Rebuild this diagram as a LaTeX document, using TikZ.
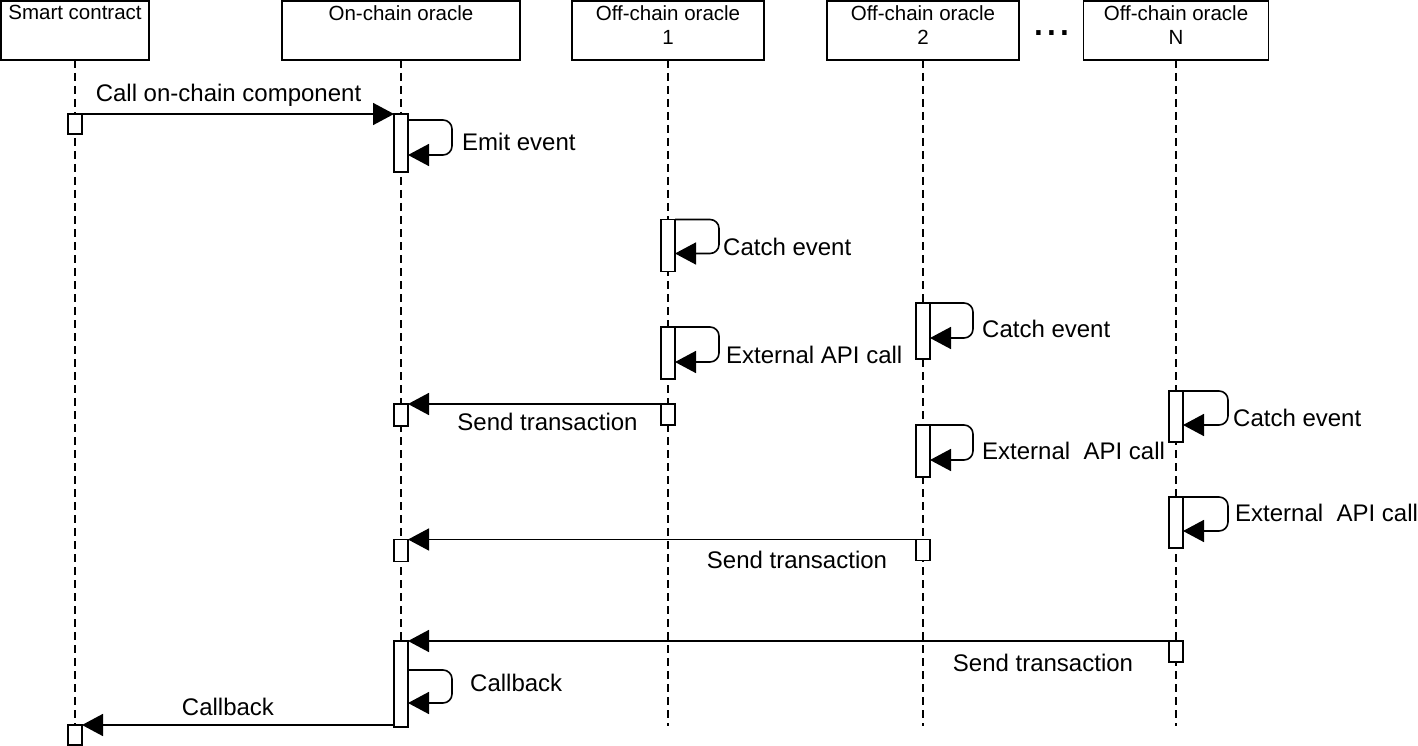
\documentclass[tikz,border=0pt]{standalone}
\usepackage{fontspec}
\setmainfont{Liberation Sans}
\usetikzlibrary{arrows.meta}
\pgfdeclarelayer{bg}
\pgfsetlayers{bg,main}
\begin{document}
\begin{tikzpicture}[x=1pt,y=-1pt,
 hdrbox/.style={draw, line width=1.6pt, inner sep=0pt, outer sep=0pt},
 hdrtxt/.style={font=\fontsize{20.5}{24}\selectfont, align=center, inner sep=0pt, anchor=north},
 act/.style={draw, fill=white, line width=1.6pt, minimum width=14pt, inner sep=0pt, outer sep=0pt, anchor=north},
 life/.style={line width=1.5pt, dash pattern=on 8pt off 5pt},
 msg/.style={line width=1.6pt, -{Triangle[length=21pt,width=22pt]}},
 selfmsg/.style={msg, rounded corners=9pt},
 lbl/.style={font=\fontsize{24}{28}\selectfont, inner sep=0pt, text height=17pt, text depth=0pt}]
\useasboundingbox (0,0) rectangle (1418,746);

% header boxes
\node[hdrbox, minimum width=148pt, minimum height=59pt] (hsc) at (75,30.5) {};
\node[hdrbox, minimum width=238pt, minimum height=59pt] (hoc) at (401,30.5) {};
\node[hdrbox, minimum width=192pt, minimum height=59pt] (h1) at (668,30.5) {};
\node[hdrbox, minimum width=192pt, minimum height=59pt] (h2) at (923,30.5) {};
\node[hdrbox, minimum width=185pt, minimum height=59pt] (hN) at (1176,30.5) {};
\node[hdrtxt] (tsc) at (75,5) {Smart contract};
\node[hdrtxt] (toc) at (401,5) {On-chain oracle};
\node[hdrtxt] (t1) at (668,5) {Off-chain oracle\\1};
\node[hdrtxt] (t2) at (923,5) {Off-chain oracle\\2};
\node[hdrtxt] (tN) at (1176,5) {Off-chain oracle\\N};
\node[font=\fontsize{46}{50}\selectfont, inner sep=0pt, anchor=base] (dots) at (1052,36) {...};

% lifeline ends
\coordinate (eoc) at (401,726);
\coordinate (e1) at (668,726);
\coordinate (e2) at (923,726);
\coordinate (eN) at (1176,726);

% activation boxes
\node[act, minimum height=20pt] (sc1) at (75,114) {};
\node[act, minimum height=58pt] (oc1) at (401,114) {};
\node[act, minimum height=52pt] (o1a) at (668,219.5) {};
\node[act, minimum height=56pt] (o2a) at (923,303) {};
\node[act, minimum height=52pt] (o1b) at (668,327) {};
\node[act, minimum height=22pt] (oc2) at (401,404) {};
\node[act, minimum height=21pt] (o1c) at (668,404) {};
\node[act, minimum height=51pt] (oNa) at (1176,391) {};
\node[act, minimum height=52pt] (o2b) at (923,425) {};
\node[act, minimum height=51pt] (oNb) at (1176,497) {};
\node[act, minimum height=22pt] (oc3) at (401,539.5) {};
\node[act, minimum height=21pt] (o2c) at (923,539.5) {};
\node[act, minimum height=86pt] (oc4) at (401,641) {};
\node[act, minimum height=21pt] (oNc) at (1176,641) {};
\node[act, minimum height=20pt] (sc2) at (75,725) {};

\begin{pgfonlayer}{bg}
\draw[life] (hsc.south) -- (sc2.north);
\draw[life] (hoc.south) -- (eoc);
\draw[life] (h1.south) -- (e1);
\draw[life] (h2.south) -- (e2);
\draw[life] (hN.south) -- (eN);
\end{pgfonlayer}

% messages
\draw[msg] (sc1.north east) -- (oc1.north west);
\draw[selfmsg] ([yshift=-6pt]oc1.north east) -- ++(44,0) -- ++(0,35) -- ([yshift=-41pt]oc1.north east);
\draw[selfmsg] (o1a.north east) -- ++(44,0) -- ++(0,34) -- ([yshift=-34pt]o1a.north east);
\draw[selfmsg] (o1b.north east) -- ++(44,0) -- ++(0,35) -- ([yshift=-35pt]o1b.north east);
\draw[selfmsg] (o2a.north east) -- ++(43,0) -- ++(0,35) -- ([yshift=-35pt]o2a.north east);
\draw[selfmsg] (o2b.north east) -- ++(43,0) -- ++(0,35) -- ([yshift=-35pt]o2b.north east);
\draw[selfmsg] (oNa.north east) -- ++(45,0) -- ++(0,34) -- ([yshift=-34pt]oNa.north east);
\draw[selfmsg] (oNb.north east) -- ++(45,0) -- ++(0,34) -- ([yshift=-34pt]oNb.north east);
\draw[msg] (o1c.north west) -- (oc2.north east);
\draw[msg] (o2c.north west) -- (oc3.north east);
\draw[msg] (oNc.north west) -- (oc4.north east);
\draw[selfmsg] ([yshift=-29pt]oc4.north east) -- ++(44,0) -- ++(0,33) -- ([yshift=-62pt]oc4.north east);
\draw[msg] ([yshift=2pt]oc4.south west) -- (sc2.north east);

% labels
\node[lbl] (l1) at (228.5,93) {Call on-chain component};
\node[lbl, anchor=west] (l2) at (462,142) {Emit event};
\node[lbl, anchor=west] (l3) at (723,247) {Catch event};
\node[lbl, anchor=west] (l4) at (726,355) {External API call};
\node[lbl, anchor=west] (l5) at (982,329) {Catch event};
\node[lbl] (l6) at (547.5,421.5) {Send transaction};
\node[lbl, anchor=west] (l7) at (1233,418) {Catch event};
\node[lbl, anchor=west] (l8) at (982,451) {External\ \ API call};
\node[lbl, anchor=west] (l9) at (1235,513) {External\ \ API call};
\node[lbl] (l10) at (797,560) {Send transaction};
\node[lbl] (l11) at (1043,663) {Send transaction};
\node[lbl, anchor=west] (l12) at (470,683) {Callback};
\node[lbl] (l13) at (228,707) {Callback};
\end{tikzpicture}
\end{document}
